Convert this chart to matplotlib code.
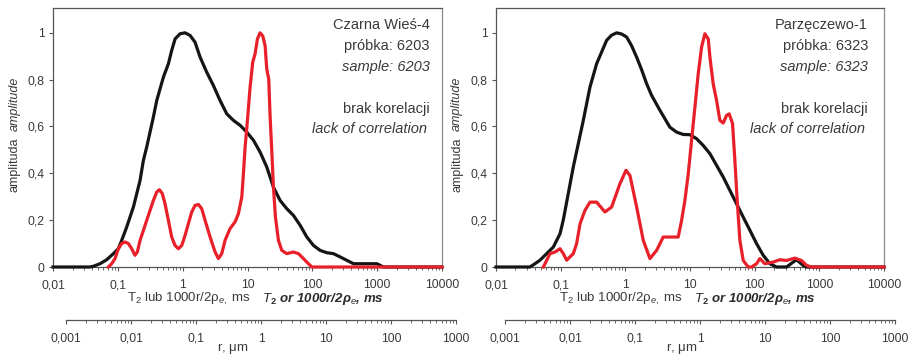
import numpy as np
import matplotlib
matplotlib.use('Agg')
import matplotlib.pyplot as plt
from matplotlib.ticker import FixedLocator, LogLocator, FuncFormatter, NullFormatter

plt.rcParams['font.family'] = ['Liberation Sans', 'DejaVu Sans']
plt.rcParams['mathtext.fontset'] = 'custom'
plt.rcParams['mathtext.rm'] = 'Liberation Sans'
plt.rcParams['mathtext.it'] = 'Liberation Sans:italic'
plt.rcParams['mathtext.bf'] = 'Liberation Sans:bold'

# values: log10(T2 [ms]) and amplitude
left_black_logt = [-2.0, -1.43, -1.378, -1.275, -1.172, -1.069, -0.992, -0.94, -0.863, -0.76, -0.657,
                   -0.606, -0.555, -0.452, -0.4, -0.297, -0.22, -0.169, -0.117, -0.04, 0.037, 0.114,
                   0.191, 0.269, 0.371, 0.474, 0.577, 0.68, 0.783, 0.886, 0.989, 1.092, 1.194, 1.297,
                   1.4, 1.503, 1.606, 1.709, 1.812, 1.915, 2.018, 2.12, 2.223, 2.326, 2.429, 2.635,
                   2.995, 3.098, 4.0]
left_black_amp = [0, 0, 0.003, 0.014, 0.031, 0.057, 0.078, 0.114, 0.171, 0.256, 0.37,
                  0.455, 0.512, 0.64, 0.711, 0.811, 0.868, 0.925, 0.974, 0.996, 1.0, 0.989,
                  0.96, 0.896, 0.832, 0.775, 0.711, 0.654, 0.626, 0.605, 0.576, 0.541, 0.491, 0.427,
                  0.341, 0.284, 0.249, 0.22, 0.178, 0.128, 0.092, 0.071, 0.061, 0.057, 0.043, 0.014,
                  0.014, 0, 0]

left_red_logt = [-1.146, -1.095, -1.043, -0.992, -0.94, -0.889, -0.837, -0.786, -0.735, -0.699, -0.657,
                 -0.606, -0.555, -0.503, -0.452, -0.4, -0.359, -0.313, -0.272, -0.22, -0.169, -0.117,
                 -0.066, -0.014, 0.037, 0.088, 0.14, 0.191, 0.243, 0.294, 0.346, 0.423, 0.5, 0.551,
                 0.603, 0.654, 0.731, 0.809, 0.86, 0.912, 0.937, 0.963, 0.999, 1.04, 1.081, 1.117,
                 1.153, 1.194, 1.236, 1.272, 1.297, 1.328, 1.349, 1.374, 1.4, 1.431, 1.477, 1.529,
                 1.606, 1.709, 1.786, 1.863, 1.94, 1.992, 4.0]
left_red_amp = [0, 0.014, 0.036, 0.078, 0.1, 0.107, 0.1, 0.078, 0.05, 0.064, 0.114,
                0.156, 0.199, 0.242, 0.284, 0.32, 0.33, 0.313, 0.27, 0.199, 0.128, 0.092,
                0.078, 0.092, 0.135, 0.185, 0.235, 0.263, 0.267, 0.249, 0.199, 0.128, 0.064, 0.036,
                0.057, 0.114, 0.164, 0.193, 0.228, 0.299, 0.398, 0.512, 0.626, 0.768, 0.875, 0.91,
                0.974, 1.0, 0.986, 0.944, 0.845, 0.802, 0.64, 0.498, 0.341, 0.213, 0.114, 0.071,
                0.057, 0.064, 0.057, 0.036, 0.014, 0, 0]

right_black_logt = [-2.0, -1.475, -1.397, -1.32, -1.191, -1.114, -1.01, -0.96, -0.805, -0.65, -0.547,
                    -0.444, -0.289, -0.212, -0.134, -0.058, 0.02, 0.097, 0.175, 0.251, 0.329, 0.406,
                    0.535, 0.689, 0.792, 0.895, 0.998, 1.101, 1.204, 1.308, 1.411, 1.514, 1.617, 1.72,
                    1.823, 1.926, 2.029, 2.132, 2.235, 2.338, 2.493, 2.596, 2.647, 2.75, 2.802, 4.0]
right_black_amp = [0, 0, 0.014, 0.029, 0.064, 0.085, 0.142, 0.2, 0.427, 0.626, 0.768,
                   0.868, 0.968, 0.99, 1.0, 0.995, 0.982, 0.945, 0.896, 0.843, 0.783, 0.733,
                   0.669, 0.597, 0.576, 0.566, 0.565, 0.548, 0.519, 0.484, 0.434, 0.384, 0.327, 0.27,
                   0.213, 0.157, 0.1, 0.05, 0.014, 0, 0, 0.021, 0.031, 0.007, 0, 0]

right_red_logt = [-1.268, -1.217, -1.165, -1.088, -1.01, -0.959, -0.907, -0.856, -0.805, -0.753, -0.70,
                  -0.624, -0.547, -0.444, -0.315, -0.212, -0.083, 0.01, 0.071, 0.175, 0.277, 0.38,
                  0.484, 0.586, 0.818, 0.87, 0.921, 0.973, 1.024,
                  1.076, 1.127, 1.179, 1.23, 1.282, 1.308, 1.359, 1.411, 1.462, 1.514, 1.565, 1.606,
                  1.658, 1.694, 1.73, 1.771, 1.823, 1.9, 1.952, 2.029, 2.08, 2.157, 2.286, 2.389,
                  2.493, 2.621, 2.724, 2.802, 2.879, 4.0]
right_red_amp = [0, 0.028, 0.057, 0.064, 0.078, 0.057, 0.029, 0.043, 0.057, 0.1, 0.185,
                 0.242, 0.277, 0.277, 0.235, 0.256, 0.356, 0.413, 0.391, 0.256, 0.114, 0.036,
                 0.071, 0.128, 0.128, 0.199, 0.284, 0.398, 0.54,
                 0.683, 0.825, 0.939, 0.996, 0.974, 0.896, 0.782, 0.711, 0.626, 0.615, 0.647, 0.654,
                 0.612, 0.455, 0.284, 0.114, 0.028, 0, 0, 0.014, 0.036, 0.014, 0.021, 0.031,
                 0.028, 0.038, 0.028, 0.007, 0, 0]

t2_ticks = [0.01, 0.1, 1, 10, 100, 1000, 10000]
r_ticks = [0.001, 0.01, 0.1, 1, 10, 100, 1000]
amp_ticks = [0, 0.2, 0.4, 0.6, 0.8, 1]

left_notes = ['Czarna Wieś-4', 'próbka: 6203', 'sample: 6203', 'brak korelacji', 'lack of correlation']
right_notes = ['Parzęczewo-1', 'próbka: 6323', 'sample: 6323', 'brak korelacji', 'lack of correlation']

W, H = 914, 356
BLACK = '#151515'
RED = '#e8202a'
SPINE = '#555555'
TXT = '#3a3a3a'

comma = FuncFormatter(lambda v, p: f'{v:g}'.replace('.', ','))

fig = plt.figure(figsize=(W / 100, H / 100), dpi=100)


def px(x, y):
    return x / W, 1 - y / H


def panel(x0, x1, bx, by, rx, ry, notes, note_right, ylab_x, xlab_x, rlab_x, r0):
    ax = fig.add_axes([x0 / W, (H - 267) / H, (x1 - x0) / W, 259 / H])
    ax.plot(10 ** np.array(bx), by, color=BLACK, lw=2.3, clip_on=False, zorder=3,
            solid_joinstyle='round')
    ax.plot(10 ** np.array(rx), ry, color=RED, lw=2.3, clip_on=False, zorder=4,
            solid_joinstyle='round')
    ax.set_xscale('log')
    ax.set_xlim(0.01, 10000)
    ax.set_ylim(0, 1.106)
    ax.xaxis.set_major_locator(FixedLocator(t2_ticks))
    ax.xaxis.set_minor_locator(LogLocator(base=10, subs=np.arange(2, 10), numticks=20))
    ax.xaxis.set_major_formatter(comma)
    ax.xaxis.set_minor_formatter(NullFormatter())
    ax.yaxis.set_major_locator(FixedLocator(amp_ticks))
    ax.yaxis.set_major_formatter(comma)
    ax.tick_params(axis='both', which='major', direction='out', length=3, width=0.8,
                   color=SPINE, labelsize=8.7, labelcolor=TXT)
    ax.tick_params(axis='x', which='minor', direction='out', length=2.5, width=0.6, color=SPINE)
    ax.tick_params(axis='x', pad=6)
    ax.tick_params(axis='y', pad=3)
    for s in ['left', 'bottom', 'top']:
        ax.spines[s].set_color(SPINE)
        ax.spines[s].set_linewidth(0.9)
    ax.spines['right'].set_color('#8a8a8a')
    ax.spines['right'].set_linewidth(0.9)

    # notes in the upper right corner
    ys = [25, 46, 67, 109, 129]
    styles = ['normal', 'normal', 'italic', 'normal', 'italic']
    for txt, yy, st, dx in zip(notes, ys, styles, [0, 0, 0, 0, -3]):
        fig.text(*px(note_right + dx, yy), txt, ha='right', va='center', fontsize=10.5,
                 style=st, color=TXT)

    # y label: "amplituda" below, italic "amplitude" above
    fig.text(*px(ylab_x, 138), 'amplituda', rotation=90, ha='center', va='top',
             fontsize=9, color=TXT)
    fig.text(*px(ylab_x, 131), 'amplitude', rotation=90, ha='center', va='bottom',
             fontsize=9, color=TXT, style='italic')

    # x label
    fig.text(*px(xlab_x, 299), r'T$_2$ lub 1000r/2ρ$_{e,}$ ms', ha='right', va='center',
             fontsize=9.5, color=TXT)
    fig.text(*px(xlab_x + 11, 299), r'$\mathbf{\mathit{T}}_\mathbf{2}$ or 1000r/2ρ$_e$, ms',
             ha='left', va='center', fontsize=9.5, color='#2a2a2a', style='italic',
             fontweight='bold')

    # r axis
    rax = fig.add_axes([r0 / W, (H - 320) / H, 390 / W, 0.01])
    rax.set_xscale('log')
    rax.set_xlim(0.001, 1000)
    rax.set_yticks([])
    rax.patch.set_visible(False)
    for s in ['left', 'right', 'top']:
        rax.spines[s].set_visible(False)
    rax.spines['bottom'].set_color(SPINE)
    rax.spines['bottom'].set_linewidth(0.9)
    rax.xaxis.set_major_locator(FixedLocator(r_ticks))
    rax.xaxis.set_minor_locator(LogLocator(base=10, subs=np.arange(2, 10), numticks=20))
    rax.xaxis.set_major_formatter(comma)
    rax.xaxis.set_minor_formatter(NullFormatter())
    rax.tick_params(axis='x', which='major', direction='out', length=3, width=0.8,
                    color=SPINE, labelsize=8.7, labelcolor=TXT, pad=6)
    rax.tick_params(axis='x', which='minor', direction='out', length=2.5, width=0.6, color=SPINE)
    fig.text(*px(rlab_x, 349), r'r, $\mathrm{\mu}$m', ha='center', va='center',
             fontsize=9.5, color=TXT)
    return ax


panel(53, 442, left_black_logt, left_black_amp, left_red_logt, left_red_amp,
      left_notes, 430, 15, 251, 233, 66)
panel(496, 884, right_black_logt, right_black_amp, right_red_logt, right_red_amp,
      right_notes, 868, 457, 683, 682, 505)

fig.savefig('out.png', dpi=100)
